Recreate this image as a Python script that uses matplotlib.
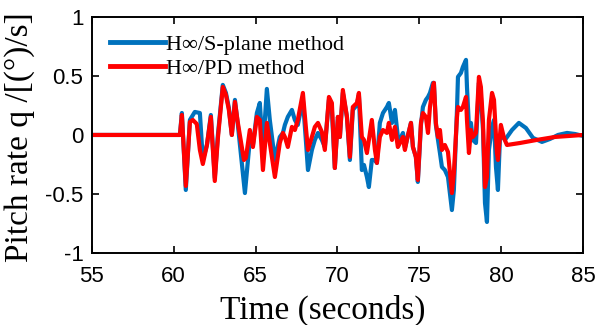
import matplotlib
matplotlib.use("Agg")
import matplotlib.pyplot as plt

# ---- data (time in seconds, pitch rate in deg/s) ----
t_s = [55.00, 60.38, 60.50, 60.74, 60.99, 61.29, 61.60, 61.78, 62.03, 62.27, 62.51, 62.70,
       63.00, 63.19, 63.37, 63.55, 63.74, 63.92, 64.35, 64.65, 64.84, 65.08, 65.26, 65.45,
       65.69, 65.87, 66.18, 66.48, 66.67, 66.79, 66.97, 67.22, 67.40, 67.58, 67.89, 68.07,
       68.20, 68.44, 68.62, 68.81, 69.05, 69.23, 69.48, 69.66, 69.84, 70.03, 70.15, 70.33,
       70.58, 70.76, 70.94, 71.19, 71.31, 71.49, 71.62, 71.80, 71.92, 72.10, 72.29, 72.41,
       72.59, 72.78, 73.02, 73.14, 73.33, 73.51, 73.69, 73.82, 74.00, 74.12, 74.24, 74.49,
       74.61, 74.79, 74.91, 75.10, 75.22, 75.40, 75.53, 75.65, 75.83, 75.89, 76.01, 76.14,
       76.26, 76.38, 76.56, 76.75, 76.99, 77.11, 77.30, 77.36, 77.54, 77.66, 77.85, 77.91,
       78.03, 78.15, 78.27, 78.46, 78.64, 78.76, 78.89, 79.01, 79.13, 79.25, 79.44, 79.56,
       79.68, 79.80, 79.92, 80.05, 80.23, 80.66, 81.08, 81.51, 81.94, 82.49, 82.98, 83.47,
       84.02, 84.51, 85.00]
q_s = [0, 0, 0.186, -0.466, 0.127, 0.195, 0.186, -0.212, -0.085, 0.169, -0.364, 0,
       0.424, 0.356, 0.229, 0, 0.297, 0.085, -0.492, -0.042, -0.085, 0.186, 0.271, -0.127,
       0.390, 0.127, -0.212, -0.017, 0.017, 0.085, 0.153, 0.212, 0.127, 0.085, 0.297, -0.042,
       -0.297, -0.127, -0.042, 0.017, -0.042, -0.102, 0.297, 0.212, -0.280, 0.153, -0.017, 0.356,
       0.153, -0.212, 0.212, 0.254, 0.339, -0.297, -0.254, -0.356, -0.441, -0.212, -0.212, -0.237,
       0.102, 0.186, 0.237, 0.271, 0.102, 0.212, -0.017, -0.042, 0.017, -0.110, -0.042, 0.102,
       -0.102, -0.186, -0.398, 0.085, 0.237, 0.297, 0.322, 0.356, 0.441, 0.441, 0.085, -0.042,
       -0.153, -0.271, -0.297, -0.356, -0.636, -0.466, 0.212, 0.492, 0.525, 0.576, 0.636, 0.407,
       0.068, 0.102, -0.042, -0.068, 0.441, 0.322, 0.042, -0.576, -0.737, -0.127, 0.068, 0.127,
       -0.271, -0.466, -0.042, 0, -0.042, 0.042, 0.102, 0.059, -0.025, -0.059, -0.034, 0,
       0.017, 0.008, -0.008]

t_pd = [55.00, 60.38, 60.50, 60.74, 60.99, 61.17, 61.41, 61.60, 61.78, 62.03, 62.27, 62.51,
        62.70, 63.00, 63.19, 63.37, 63.55, 63.74, 63.92, 64.29, 64.41, 64.65, 64.84, 65.08,
        65.26, 65.45, 65.69, 65.87, 66.18, 66.48, 66.67, 66.79, 66.97, 67.22, 67.40, 67.58,
        67.89, 68.07, 68.20, 68.44, 68.62, 68.81, 69.05, 69.23, 69.48, 69.66, 69.84, 70.03,
        70.15, 70.33, 70.58, 70.76, 70.94, 71.19, 71.31, 71.49, 71.62, 71.80, 71.92, 72.10,
        72.29, 72.41, 72.59, 72.78, 73.02, 73.14, 73.33, 73.51, 73.69, 73.82, 74.00, 74.12,
        74.24, 74.49, 74.61, 74.79, 74.91, 75.10, 75.22, 75.40, 75.53, 75.65, 75.83, 75.89,
        76.01, 76.14, 76.26, 76.38, 76.56, 76.75, 76.99, 77.11, 77.30, 77.36, 77.54, 77.66,
        77.85, 77.91, 78.03, 78.15, 78.27, 78.46, 78.64, 78.76, 78.89, 79.01, 79.13, 79.25,
        79.44, 79.56, 79.74, 79.80, 79.98, 80.17, 80.35, 81.15, 82.18, 83.28, 84.20, 85.00]
q_pd = [0, 0, 0.169, -0.432, 0.110, 0.127, 0.093, -0.127, -0.246, -0.085, 0.153, -0.390,
        -0.025, 0.407, 0.339, 0.212, 0, 0.280, 0.102, -0.212, -0.195, 0.042, -0.102, 0.153,
        0.127, -0.297, 0.102, -0.068, -0.356, -0.068, 0.017, -0.017, -0.102, 0.068, 0.042, 0.127,
        0.356, 0.068, -0.127, -0.017, 0.068, 0.102, 0.025, -0.127, 0.322, 0.271, -0.280, 0.153,
        -0.017, 0.381, 0.153, -0.186, 0.237, 0.271, 0.356, -0.017, -0.042, -0.153, -0.042, 0.127,
        -0.127, -0.237, -0.017, 0.042, 0.017, 0.102, -0.042, 0.068, -0.102, -0.068, -0.017, -0.127,
        -0.042, 0.102, -0.102, -0.186, -0.381, 0.102, 0.186, 0.153, 0.017, 0.237, 0.407, 0.441,
        0.102, -0.017, 0.042, -0.127, -0.085, -0.144, -0.492, -0.322, 0.153, 0.237, 0.212, 0.237,
        0.322, 0.127, -0.153, 0.042, -0.017, 0.017, 0.492, 0.407, 0.102, -0.441, -0.356, 0.127,
        0.356, 0.297, -0.153, -0.212, 0.085, -0.025, -0.085, -0.068, -0.042, -0.017, -0.008, 0]

labels = ["H\u221e/S-plane method", "H\u221e/PD method"]
x_ticks = [55, 60, 65, 70, 75, 80, 85]
y_ticks = [-1, -0.5, 0, 0.5, 1]
y_tick_labels = ["-1", "-0.5", "0", "0.5", "1"]

serif = ["Liberation Serif", "DejaVu Serif"]
sans = ["Liberation Sans", "DejaVu Sans"]

fig = plt.figure(figsize=(6.08, 3.25), dpi=100)
ax = fig.add_axes([0.151, 0.2215, 0.808, 0.7265])

ax.plot(t_s, q_s, color="#0072BD", lw=3.0, label=labels[0], solid_joinstyle="round")
ax.plot(t_pd, q_pd, color="#FF0000", lw=3.0, label=labels[1], solid_joinstyle="round")

ax.set_xlim(55, 85)
ax.set_ylim(-1, 1)
ax.set_xticks(x_ticks)
ax.set_yticks(y_ticks)
ax.set_yticklabels(y_tick_labels)
for lab in ax.get_xticklabels() + ax.get_yticklabels():
    lab.set_family(sans)
    lab.set_fontsize(16)
ax.tick_params(direction="in", length=5, width=1.2, top=True, right=True)
ax.tick_params(axis="x", pad=9)
ax.tick_params(axis="y", pad=6)
for sp in ax.spines.values():
    sp.set_linewidth(1.4)

ax.set_xlabel("Time (seconds)", fontsize=24, family=serif)
ax.xaxis.set_label_coords(0.47, -0.175)
ax.set_ylabel("Pitch rate q /[(\u00b0)/s]", fontsize=24, family=serif)
ax.yaxis.set_label_coords(-0.115, 0.49)

leg = ax.legend(loc="upper left", frameon=False, prop={"family": serif, "size": 16},
                handlelength=2.5, handletextpad=0.05, labelspacing=0.15,
                borderaxespad=0.4, borderpad=0.4)
for h in leg.get_lines():
    h.set_linewidth(3.5)

fig.savefig("out.png", dpi=100)
